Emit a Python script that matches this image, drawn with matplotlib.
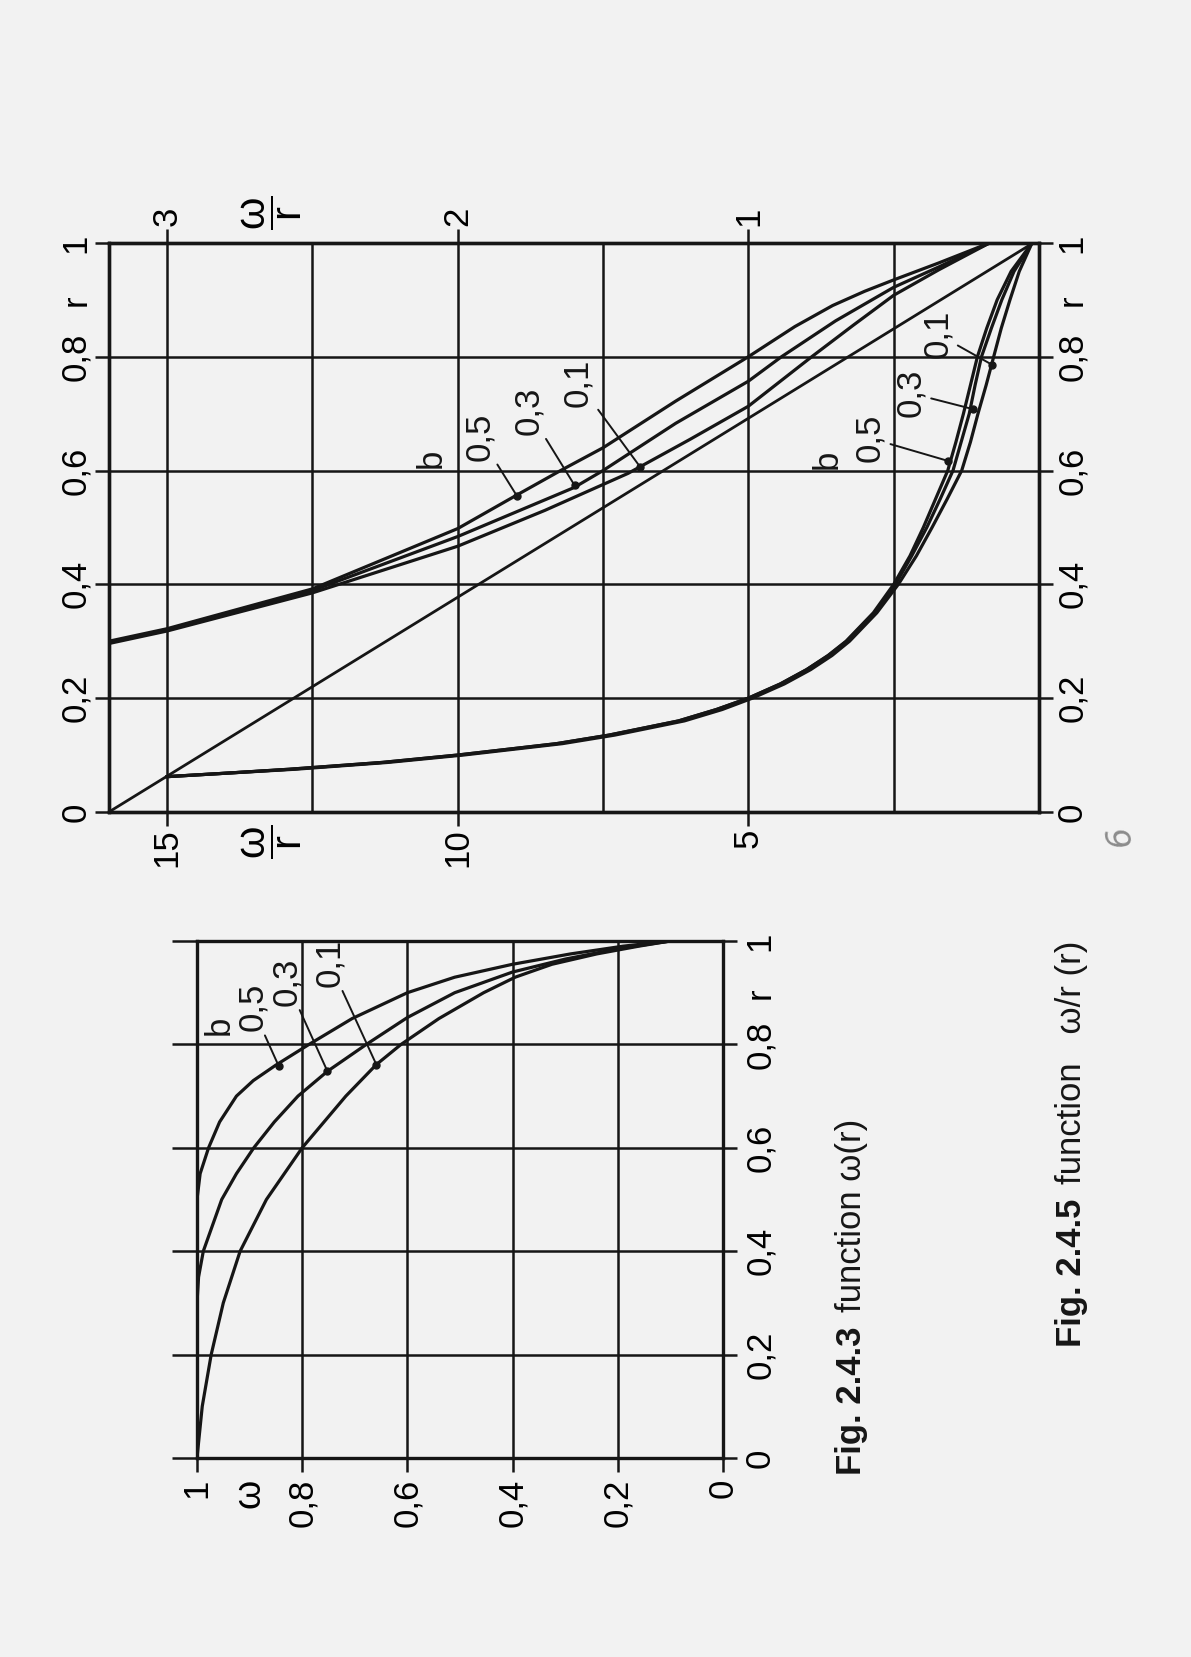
import matplotlib
matplotlib.use("Agg")
import matplotlib.pyplot as plt

plt.rcParams['font.family'] = ['Liberation Sans', 'DejaVu Sans']
plt.rcParams['mathtext.fontset'] = 'custom'
plt.rcParams['mathtext.rm'] = 'Liberation Sans'
plt.rcParams['mathtext.it'] = 'Liberation Sans'

INK = '#161616'
PAPER = '#f2f2f2'
FS = 25

# ---------------- data: Fig. 2.4.3  omega(r) ----------------
W_R_05 = [0, 0.5, 0.55, 0.6, 0.65, 0.7, 0.73, 0.76, 0.8, 0.85, 0.9, 0.93, 0.955, 0.975, 0.99, 1.0]
W_05 = [1, 1, 0.994, 0.978, 0.957, 0.925, 0.893, 0.85, 0.787, 0.705, 0.60, 0.51, 0.40, 0.29, 0.19, 0.10]
W_R_03 = [0, 0.3, 0.35, 0.4, 0.5, 0.55, 0.6, 0.65, 0.7, 0.748, 0.8, 0.852, 0.9, 0.94, 0.965, 0.985, 1.0]
W_03 = [1, 1, 0.997, 0.988, 0.953, 0.925, 0.892, 0.853, 0.808, 0.752, 0.678, 0.60, 0.51, 0.40, 0.30, 0.20, 0.10]
W_R_01 = [0, 0.05, 0.1, 0.2, 0.3, 0.4, 0.5, 0.6, 0.7, 0.761, 0.8, 0.85, 0.9, 0.93, 0.955, 0.975, 0.99, 1.0]
W_01 = [1, 0.995, 0.99, 0.973, 0.95, 0.918, 0.868, 0.80, 0.717, 0.659, 0.612, 0.54, 0.455, 0.395, 0.325, 0.24, 0.16, 0.10]

W_TICKS = [1, 0.8, 0.6, 0.4, 0.2, 0]
W_TICKLABELS = ['1', '0,8', '0,6', '0,4', '0,2', '0']
R_TICKS = [0, 0.2, 0.4, 0.6, 0.8, 1.0]
R_TICKLABELS = ['0', '0,2', '0,4', '0,6', '0,8', '1']

B_VALUES = ['0,5', '0,3', '0,1']
W_LABEL_POS = [(0.895, 0.872), (0.829, 0.921), (0.748, 0.958)]
W_DOTS = [(0.845, 0.759), (0.752, 0.748), (0.659, 0.761)]
W_B_POS = (0.957, 0.837)

# ---------------- data: Fig. 2.4.5  omega/r (r) ----------------
# lower group, read on the 0..16 scale
LOW_R = [0.062, 0.068, 0.075, 0.087, 0.1, 0.12, 0.135, 0.16, 0.18, 0.2, 0.225, 0.25, 0.275,
         0.3, 0.35, 0.4, 0.45, 0.5, 0.55, 0.6, 0.65, 0.7, 0.75, 0.8, 0.85, 0.9, 0.95, 1.0]
LOW_05 = [15.0, 14.0, 12.9, 11.3, 10.0, 8.3, 7.4, 6.2, 5.55, 5.0, 4.45, 4.0, 3.63,
          3.32, 2.85, 2.5, 2.22, 1.99, 1.78, 1.57, 1.43, 1.30, 1.18, 1.06, 0.90, 0.72, 0.48, 0.12]
LOW_03 = [15.0, 14.0, 12.9, 11.3, 10.0, 8.3, 7.4, 6.2, 5.55, 5.0, 4.45, 4.0, 3.62,
          3.31, 2.83, 2.47, 2.19, 1.93, 1.70, 1.48, 1.34, 1.20, 1.10, 0.99, 0.82, 0.64, 0.43, 0.12]
LOW_01 = [15.0, 14.0, 12.8, 11.2, 9.9, 8.2, 7.3, 6.1, 5.45, 4.93, 4.38, 3.93, 3.56,
          3.26, 2.79, 2.42, 2.11, 1.84, 1.58, 1.33, 1.18, 1.05, 0.91, 0.78, 0.65, 0.50, 0.34, 0.12]

# reference straight line (0..16 scale)
LINE_X = [16, 0.1]
LINE_R = [0, 1.0]

# upper group, read on the 0..3.2 scale
UP_X_05 = [3.2, 3.0, 2.5, 2.0, 1.8, 1.646, 1.5, 1.25, 1.0, 0.84, 0.71, 0.6, 0.5, 0.344, 0.17]
UP_R_05 = [0.300, 0.322, 0.392, 0.498, 0.556, 0.600, 0.640, 0.722, 0.800, 0.853, 0.890, 0.915, 0.935, 0.965, 1.0]
UP_X_03 = [3.2, 3.0, 2.5, 2.0, 1.6, 1.5, 1.25, 1.0, 0.886, 0.7, 0.5, 0.344, 0.17]
UP_R_03 = [0.298, 0.320, 0.389, 0.484, 0.570, 0.600, 0.683, 0.757, 0.800, 0.863, 0.922, 0.958, 1.0]
UP_X_01 = [3.2, 3.0, 2.5, 2.0, 1.7, 1.414, 1.2, 1.0, 0.782, 0.64, 0.5, 0.344, 0.17]
UP_R_01 = [0.296, 0.318, 0.385, 0.467, 0.530, 0.595, 0.655, 0.713, 0.800, 0.855, 0.908, 0.953, 1.0]

WR_TICKS = [15, 10, 5]
WR_TICKLABELS = ['15', '10', '5']
WR_MINOR = [12.5, 7.5, 2.5]
WR2_TICKS = [3, 2, 1]
WR2_TICKLABELS = ['3', '2', '1']

UP_LABEL_POS = [(9.62, 0.660), (8.78, 0.705), (7.93, 0.755)]
UP_DOTS = [(8.98, 0.555), (7.99, 0.574), (6.86, 0.606)]
UP_B_POS = (10.45, 0.621)
LOW_LABEL_POS = [(2.91, 0.657), (2.21, 0.736), (1.75, 0.840)]
LOW_DOTS = [(1.57, 0.617), (1.14, 0.708), (0.81, 0.786)]
LOW_B_POS = (3.64, 0.62)

fig = plt.figure(figsize=(11.91, 16.57), dpi=100, facecolor=PAPER)


def frame(ax):
    ax.set_facecolor('none')
    for s in ax.spines.values():
        s.set_linewidth(2.4)
        s.set_color(INK)


def leaders(ax, pos, dots, bpos):
    for lbl, p, d in zip(B_VALUES, pos, dots):
        ax.plot(*d, 'o', ms=5, color=INK, zorder=4)
        ax.annotate(lbl, xy=d, xytext=p, rotation=90, ha='center', va='center',
                    fontsize=FS, color=INK,
                    arrowprops=dict(arrowstyle='-', lw=1.4, color=INK,
                                    shrinkA=1, shrinkB=0))
    ax.text(*bpos, 'b', rotation=90, ha='center', va='center', fontsize=FS, color=INK)


# ---------------- Fig. 2.4.5 ----------------
ax = fig.add_axes([0.0915, 0.5100, 0.7809, 0.3434])
ax2 = ax.twiny()
frame(ax); frame(ax2)
ax.set_xlim(16, 0); ax.set_ylim(0, 1)
ax2.set_xlim(3.2, 0)

ax.set_xticks(WR_TICKS, WR_TICKLABELS, rotation=90)
ax.set_xticks(WR_MINOR, minor=True)
ax.set_yticks(R_TICKS, R_TICKLABELS, rotation=90, va='center')
ax.grid(True, which='both', color=INK, lw=1.8)
ax.tick_params(which='major', direction='out', length=10, width=1.8, color=INK,
               labelsize=FS, pad=2, left=True, right=True, labelleft=True, labelright=True)
ax.tick_params(which='minor', length=0)
ax2.set_xticks(WR2_TICKS, WR2_TICKLABELS, rotation=90)
ax2.tick_params(direction='out', length=10, width=1.8, color=INK, labelsize=FS, pad=2)

ax.plot(LINE_X, LINE_R, color=INK, lw=2.0)
for xs in (LOW_05, LOW_03, LOW_01):
    ax.plot(xs, LOW_R, color=INK, lw=2.3)
for xs, rs in ((UP_X_05, UP_R_05), (UP_X_03, UP_R_03), (UP_X_01, UP_R_01)):
    ax2.plot(xs, rs, color=INK, lw=2.3)

leaders(ax, UP_LABEL_POS, UP_DOTS, UP_B_POS)
leaders(ax, LOW_LABEL_POS, LOW_DOTS, LOW_B_POS)

frac = r'$\dfrac{\omega}{r}$'
ax.annotate(frac, xy=(13.2, 0), xycoords=('data', 'axes fraction'), xytext=(0, -9),
            textcoords='offset points', rotation=90, ha='center', va='top', fontsize=FS + 5)
ax2.annotate(frac, xy=(2.64, 1), xycoords=('data', 'axes fraction'), xytext=(0, 9),
             textcoords='offset points', rotation=90, ha='center', va='bottom', fontsize=FS + 5)
ax.annotate('r', xy=(0, 0.9), xycoords='axes fraction', xytext=(-12, 0),
            textcoords='offset points', rotation=90, ha='right', va='center', fontsize=FS)
ax.annotate('r', xy=(1, 0.9), xycoords='axes fraction', xytext=(12, 0),
            textcoords='offset points', rotation=90, ha='left', va='center', fontsize=FS)

# ---------------- Fig. 2.4.3 ----------------
aw = fig.add_axes([0.1654, 0.1201, 0.4416, 0.3120])
frame(aw)
aw.set_xlim(1, 0); aw.set_ylim(0, 1)
aw.set_xticks(W_TICKS, W_TICKLABELS, rotation=90)
aw.set_yticks(R_TICKS, R_TICKLABELS, rotation=90, va='center')
aw.grid(True, color=INK, lw=1.8)
aw.tick_params(direction='out', length=10, width=1.8, color=INK, labelsize=FS, pad=5,
               left=True, right=True, labelleft=False, labelright=True)
for t in aw.yaxis.get_major_ticks():
    t.tick1line.set_markersize(18)

for rs, ws in ((W_R_05, W_05), (W_R_03, W_03), (W_R_01, W_01)):
    aw.plot(ws, rs, color=INK, lw=2.3)
leaders(aw, W_LABEL_POS, W_DOTS, W_B_POS)

aw.annotate('ω', xy=(0.9, 0), xycoords=('data', 'axes fraction'), xytext=(0, -15),
            textcoords='offset points', rotation=90, ha='center', va='top', fontsize=FS + 2)
aw.annotate('r', xy=(1, 0.9), xycoords='axes fraction', xytext=(15, 0),
            textcoords='offset points', rotation=90, ha='left', va='center', fontsize=FS)

# ---------------- captions ----------------
renderer = fig.canvas.get_renderer()


def caption(x, y0, bold, rest):
    t = fig.text(x, y0, bold, rotation=90, ha='center', va='bottom', fontsize=FS,
                 fontweight='bold', color=INK)
    bb = t.get_window_extent(renderer)
    y1 = bb.y1 / fig.bbox.height + 0.009
    fig.text(x, y1, rest, rotation=90, ha='center', va='bottom', fontsize=FS, color=INK)


caption(852 / 1191, 1 - 1475 / 1657, 'Fig. 2.4.3', 'function ω(r)')
caption(1072 / 1191, 1 - 1347 / 1657, 'Fig. 2.4.5', 'function   ω/r (r)')

fig.text(1120 / 1191, 1 - 835 / 1657, '6', rotation=100, ha='center', va='center',
         fontsize=24, color='#8c8c8c', family='DejaVu Sans', fontweight='light',
         fontstyle='italic')

fig.savefig('out.png', dpi=100, facecolor=PAPER)
